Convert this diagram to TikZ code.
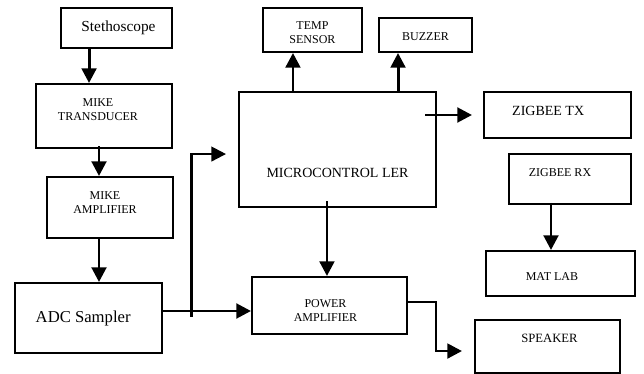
\documentclass[tikz,border=0pt]{standalone}
\usepackage{fontspec}
\setmainfont{Liberation Serif}
\usepackage{xcolor}
\usepackage{tikz}
\usetikzlibrary{arrows.meta,positioning,calc}
\definecolor{blockInk}{HTML}{000000}
\tikzset{
  block/.style={
    rectangle,
    draw=blockInk,
    line width=1.5pt,
    inner sep=0pt
  },
  blockText/.style={
    align=center,
    text=blockInk,
    font=\fontsize{9}{10.5}\selectfont
  },
  bigText/.style={
    align=center,
    text=blockInk,
    font=\fontsize{12.5}{14}\selectfont
  },
  arrow/.style={
    -{Triangle[length=11pt,width=11pt]},
    line width=2.2pt,
    draw=blockInk
  },
  tapLine/.style={
    line width=1.6pt,
    draw=blockInk
  }
}

\begin{document}
\begin{tikzpicture}[x=0.75pt,y=-0.75pt]
  \useasboundingbox (0,0) rectangle (644,374);
  % left column
  \node[block,minimum width=83.25pt,minimum height=30pt,
    label={[bigText,font=\fontsize{11.5}{13}\selectfont,xshift=1.5pt]center:Stethoscope}] (steth) at (116.5,28) {};
  \node[block,minimum width=102pt,minimum height=48pt,
    label={[blockText,xshift=-4.5pt,yshift=4.5pt]center:MIKE\\TRANSDUCER}] (mikeTrans) at (104,116) {};
  \node[block,minimum width=94.5pt,minimum height=45.75pt,
    label={[blockText,xshift=-3.75pt,yshift=4pt]center:MIKE\\AMPLIFIER}] (mikeAmp) at (110,207.5) {};
  \node[block,minimum width=110.25pt,minimum height=52.5pt,
    label={[bigText,xshift=-4pt]center:ADC Sampler}] (adc) at (88.5,318) {};
  % middle
  \node[block,minimum width=147.75pt,minimum height=86.25pt,
    label={[blockText,font=\fontsize{10.5}{12}\selectfont,yshift=-17.6pt]center:MICROCONTROL LER}] (mcu) at (337.5,149.5) {};
  \node[block,minimum width=74.25pt,minimum height=33pt,
    label={[blockText,yshift=-2pt]center:TEMP\\SENSOR}] (temp) at (312.5,30) {};
  \node[block,minimum width=70pt,minimum height=25.5pt,
    label={[blockText,yshift=-1.5pt]center:BUZZER}] (buzzer) at (425.5,35) {};
  \node[block,minimum width=116.25pt,minimum height=42.75pt,
    label={[blockText,xshift=-3pt,yshift=-4pt]center:POWER\\AMPLIFIER}] (powerAmp) at (329.5,305.5) {};
  % right column
  \node[block,minimum width=110.25pt,minimum height=34.5pt,
    label={[blockText,font=\fontsize{10.5}{12}\selectfont,xshift=-7pt,yshift=3pt]center:ZIGBEE TX}] (zigTx) at (557.5,115) {};
  \node[block,minimum width=91.5pt,minimum height=37.5pt,
    label={[blockText,xshift=-7.5pt,yshift=5pt]center:ZIGBEE RX}] (zigRx) at (570,179) {};
  \node[block,minimum width=111.75pt,minimum height=33.75pt,
    label={[blockText,xshift=-6.4pt,yshift=-2.6pt]center:MAT LAB}] (matLab) at (560.5,273.5) {};
  \node[block,minimum width=108.75pt,minimum height=39.75pt,
    label={[blockText,font=\fontsize{9.5}{11}\selectfont,xshift=1.5pt,yshift=6.4pt]center:SPEAKER}] (speaker) at (547.5,346.5) {};

  % connectors
  \coordinate (stethOut) at ([xshift=-20.6pt]steth.south);
  \draw[arrow] (stethOut) -- (stethOut |- mikeTrans.north);
  \coordinate (transOut) at ([xshift=-3.75pt,yshift=2pt]mikeTrans.south);
  \draw[arrow] (transOut) -- (transOut |- mikeAmp.north);
  \coordinate (ampOut) at ([xshift=-8.25pt]mikeAmp.south);
  \draw[arrow] (ampOut) -- (ampOut |- adc.north);
  \coordinate (adcOut) at ([yshift=5.25pt]adc.east);
  \draw[arrow] (adcOut) -- (adcOut -| powerAmp.west);
  \coordinate (tap) at (191.5,317);
  \coordinate (mcuIn) at ([xshift=-9pt,yshift=-3.4pt]mcu.west);
  \draw[arrow,tapLine] (tap) |- (mcuIn);
  \coordinate (mcuTemp) at ([xshift=-33.4pt]mcu.north);
  \draw[arrow] (mcuTemp) -- (mcuTemp |- temp.south);
  \coordinate (mcuBuzz) at ([xshift=45.4pt]mcu.north);
  \draw[arrow] (mcuBuzz) -- (mcuBuzz |- buzzer.south);
  \coordinate (mcuRight) at ([xshift=-9pt]mcu.east);
  \draw[arrow] (mcuRight |- zigTx.west) -- ([xshift=-8.25pt]zigTx.west);
  \coordinate (rxOut) at ([xshift=-14.25pt,yshift=1.5pt]zigRx.south);
  \draw[arrow] (rxOut) -- (rxOut |- matLab.north);
  \coordinate (mcuDown) at ([xshift=-7.9pt,yshift=5pt]mcu.south);
  \draw[arrow] (mcuDown) -- (mcuDown |- powerAmp.north);
  \coordinate (paOut) at ([yshift=2.6pt]powerAmp.east);
  \coordinate (spkIn) at ([xshift=-9pt,yshift=-3.4pt]speaker.west);
  \draw[arrow] (paOut) -- ++(28,0) |- (spkIn);
\end{tikzpicture}
\end{document}
